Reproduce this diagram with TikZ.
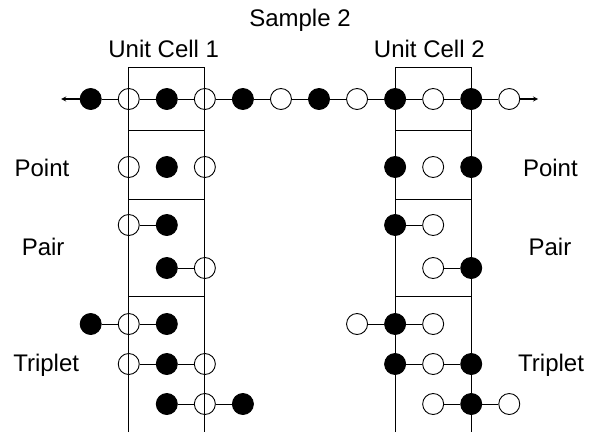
\documentclass[tikz,border=0pt]{standalone}
\usepackage{fontspec}
\setmainfont{Liberation Sans}
\usetikzlibrary{arrows}

\tikzset{
  atom/.style={circle, draw, line width=0.9pt, minimum size=21pt, inner sep=0pt},
  full/.style={atom, fill=black},
  hollow/.style={atom},
  bond/.style={line width=0.8pt},
  cell/.style={line width=0.9pt},
  lbl/.style={anchor=base, font=\fontsize{24}{28}\selectfont}
}

% odd column -> hollow, even column -> full
\newcommand{\putatom}[3]{%
  \ifodd#2\relax \node [hollow] (#1) at (#2,#3) {};%
  \else \node [full] (#1) at (#2,#3) {};\fi}

\begin{document}
\begin{tikzpicture}[x=38.05pt, y=-1pt]
  \useasboundingbox (-2.3837,0) rectangle (13.1222,432);

  % unit cells
  \draw [cell] (1,432) -- (1,67) -- (3,67) -- (3,432);
  \draw [cell] (8,432) -- (8,67) -- (10,67) -- (10,432);
  \foreach \y in {130,199,296} {
    \draw [cell] (1,\y) -- (3,\y);
    \draw [cell] (8,\y) -- (10,\y);
  }

  % labels
  \node [lbl] (sample) at (5.5,26.7) {Sample 2};
  \node [lbl] (uc1) at (1.92,57.5) {Unit Cell 1};
  \node [lbl] (uc2) at (8.9,57.5) {Unit Cell 2};
  \node [lbl] (pointl) at (-1.28,176) {Point};
  \node [lbl] (pairl) at (-1.25,255) {Pair};
  \node [lbl] (tripl) at (-1.17,371.5) {Triplet};
  \node [lbl] (pointr) at (12.08,176) {Point};
  \node [lbl] (pairr) at (12.07,255) {Pair};
  \node [lbl] (tripr) at (12.1,371.5) {Triplet};

  % chain
  \foreach \k in {0,...,11} \putatom{c\k}{\k}{99};
  \foreach \k [count=\j from 1] in {0,...,10} \draw [bond] (c\k) -- (c\j);
  \coordinate (lend) at (-0.78,99);
  \coordinate (rend) at (11.76,99);
  \draw [-stealth, line width=1.3pt] (c0) -- (lend);
  \draw [-stealth, line width=1.3pt] (c11) -- (rend);

  % point defects
  \foreach \r/\y/\a/\b in {pl/167/1/3, pr/167/8/10}
    \foreach \k in {\a,...,\b} \putatom{\r\k}{\k}{\y};

  % pairs and triplets
  \foreach \r/\y/\a/\b in {al/225/1/2, bl/268/2/3, ar/225/8/9, br/268/9/10,
      tl/324/0/2, ul/364/1/3, vl/404/2/4, tr/324/7/9, ur/364/8/10, vr/404/9/11} {
    \foreach \k in {\a,...,\b} \putatom{\r\k}{\k}{\y};
    \pgfmathtruncatemacro\e{\b-1}
    \foreach \k in {\a,...,\e} {
      \pgfmathtruncatemacro\n{\k+1}
      \draw [bond] (\r\k) -- (\r\n);
    }
  }
\end{tikzpicture}
\end{document}
